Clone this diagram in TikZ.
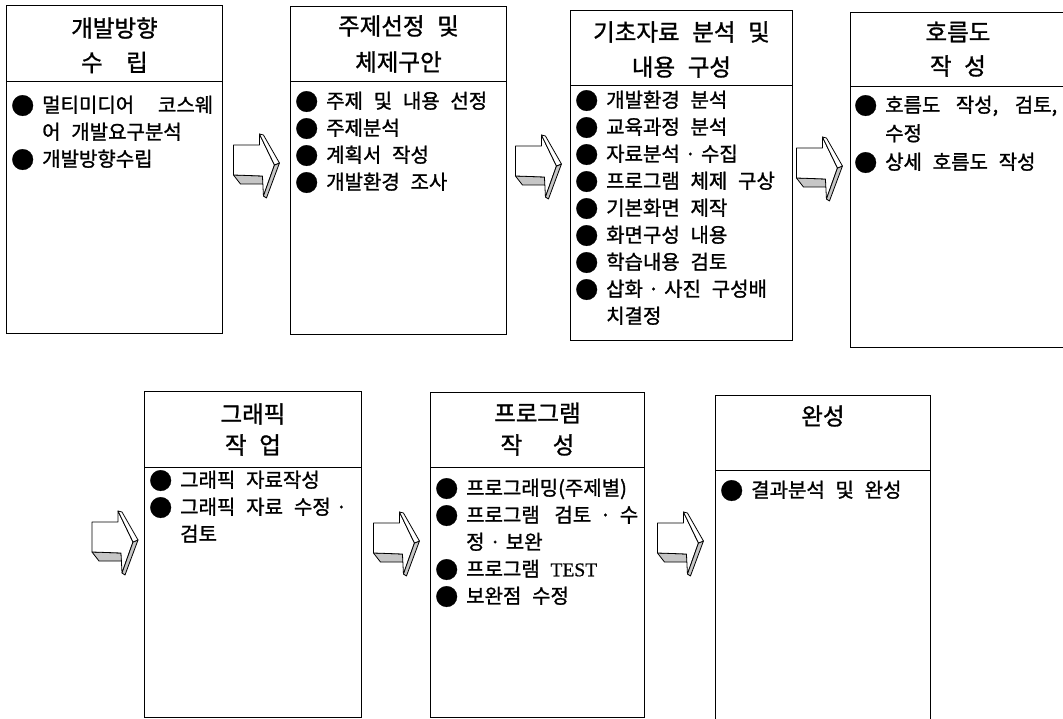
\documentclass[tikz,border=0pt]{standalone}
\usepackage{fontspec}
\newfontfamily\kr[WordSpace=2.4,FakeBold=1.2]{Noto Sans CJK KR}
\newfontfamily\lat[FakeBold=0.8]{Liberation Serif}
\usetikzlibrary{calc}
\newcommand\bul{\makebox[31pt][l]{\raisebox{-2pt}{\fontsize{23}{23}\selectfont ●}}}
\newcommand\ind{\hspace*{31pt}}
\newcommand\md{\hspace{5pt plus 5pt}·\hspace{5pt plus 5pt}}
\tikzset{
 box/.style={draw, line width=0.9pt, inner sep=0pt, anchor=north west},
 ttl/.style={font=\kr\fontsize{23.5}{23.5}\selectfont, inner sep=0pt, anchor=center},
 items/.style={font=\kr\fontsize{20}{27}\selectfont, inner sep=0pt, anchor=north west, align=left},
 divider/.style={line width=0.9pt},
 face/.style={draw, line width=0.8pt, line join=round, fill=white},
 shade/.style={draw, line width=0.8pt, line join=round, fill=gray!45},
 blockarr/.pic={
   \filldraw[shade] (0,41) -- (29,42) -- (30,50) -- (7,50) -- cycle;
   \filldraw[face] (0,11) -- (26,11) -- (26,0) -- (41,31) -- (30,62) -- (29,42) -- (0,41) -- cycle;
   \filldraw[shade] (41,31) -- (46,29) -- (33,64) -- (30,62) -- cycle;
   \filldraw[face] (26,0) -- (30,1) -- (46,29) -- (41,31) -- cycle;
 }
}
\begin{document}
\begin{tikzpicture}[x=1pt,y=-1pt]
\useasboundingbox[fill=white] (0,0) rectangle (1063,719);
% boxes
\node[box, minimum width=216pt, minimum height=328pt] (b1) at (6,5) {};
\node[box, minimum width=216pt, minimum height=328pt] (b2) at (290,6) {};
\node[box, minimum width=222pt, minimum height=330pt] (b3) at (570,10) {};
\node[box, minimum width=215pt, minimum height=335pt] (b4) at (850,12) {};
\node[box, minimum width=217pt, minimum height=326pt] (b5) at (144,391) {};
\node[box, minimum width=214pt, minimum height=325pt] (b6) at (430,392) {};
\node[box, minimum width=215pt, minimum height=335pt] (b7) at (715,395) {};
% dividers
\draw[divider] ($(b1.north west)+(0,76)$) -- ($(b1.north east)+(0,76)$);
\draw[divider] ($(b2.north west)+(0,75)$) -- ($(b2.north east)+(0,75)$);
\draw[divider] ($(b3.north west)+(0,75)$) -- ($(b3.north east)+(0,75)$);
\draw[divider] ($(b4.north west)+(0,74)$) -- ($(b4.north east)+(0,74)$);
\draw[divider] ($(b5.north west)+(0,76)$) -- ($(b5.north east)+(0,76)$);
\draw[divider] ($(b6.north west)+(0,75)$) -- ($(b6.north east)+(0,75)$);
\draw[divider] ($(b7.north west)+(0,75)$) -- ($(b7.north east)+(0,75)$);
% titles
\node[ttl] (t1a) at ($(b1.north)+(0,23)$) {개발방향};
\node[ttl] (t1b) at ($(b1.north)+(0,57.5)$) {수\quad 립};
\node[ttl] (t2a) at ($(b2.north)+(0,20)$) {주제선정 및};
\node[ttl] (t2b) at ($(b2.north)+(0,56)$) {체제구안};
\node[ttl] (t3a) at ($(b3.north)+(0,22)$) {기초자료 분석 및};
\node[ttl] (t3b) at ($(b3.north)+(0,57)$) {내용 구성};
\node[ttl] (t4a) at ($(b4.north)+(0,20)$) {호름도};
\node[ttl] (t4b) at ($(b4.north)+(0,54)$) {작 성};
\node[ttl] (t5a) at ($(b5.north)+(0,23)$) {그래픽};
\node[ttl] (t5b) at ($(b5.north)+(0,54)$) {작 업};
\node[ttl] (t6a) at ($(b6.north)+(0,21)$) {프로그램};
\node[ttl] (t6b) at ($(b6.north)+(0,53)$) {작\hspace{1.3em}성};
\node[ttl] (t7a) at ($(b7.north)+(0,21)$) {완성};
% items
\node[items] (i1) at ($(b1.north west)+(5,90)$) {\bul\makebox[171pt][s]{멀티미디어 코스웨}\\ \ind 어 개발요구분석\\ \bul 개발방향수립};
\node[items] (i2) at ($(b2.north west)+(5,85)$) {\bul 주제 및 내용 선정\\ \bul 주제분석\\ \bul 계획서 작성\\ \bul 개발환경 조사};
\node[items] (i3) at ($(b3.north west)+(5,80)$) {\bul 개발환경 분석\\ \bul 교육과정 분석\\ \bul 자료분석\md 수집\\ \bul 프로그램 체제 구상\\ \bul 기본화면 제작\\ \bul 화면구성 내용\\ \bul 학습내용 검토\\ \bul 삽화\md 사진 구성배\\ \ind 치결정};
\node[items, font=\kr\fontsize{20}{28.5}\selectfont] (i4) at ($(b4.north west)+(4,83)$) {\bul\makebox[172pt][s]{호름도 작성, 검토,}\\ \ind 수정\\ \bul 상세 호름도 작성};
\node[items] (i5) at ($(b5.north west)+(5,79)$) {\bul 그래픽 자료작성\\ \bul\makebox[172pt][s]{그래픽 자료 수정\md}\\ \ind 검토};
\node[items] (i6) at ($(b6.north west)+(5,86)$) {\bul 프로그래밍(주제별)\\ \bul\makebox[172pt][s]{프로그램 검토\md 수}\\ \ind 정\md 보완\\ \bul 프로그램 {\lat\fontsize{19.5}{27}\selectfont TEST}\\ \bul 보완점 수정};
\node[items] (i7) at ($(b7.north west)+(5,85)$) {\bul 결과분석 및 완성};
% block arrows
\pic at ($(b1.north east)!0.5!(b2.north west)+(-23,128.5)$) {blockarr};
\pic at ($(b2.north east)!0.5!(b3.north west)+(-23,127)$) {blockarr};
\pic at ($(b3.north east)!0.5!(b4.north west)+(-25,126)$) {blockarr};
\pic at ($(b5.north west)+(-52,120)$) {blockarr};
\pic at ($(b5.north east)!0.5!(b6.north west)+(-22.5,120.5)$) {blockarr};
\pic at ($(b6.north east)!0.5!(b7.north west)+(-22.5,118.5)$) {blockarr};
\end{tikzpicture}
\end{document}
